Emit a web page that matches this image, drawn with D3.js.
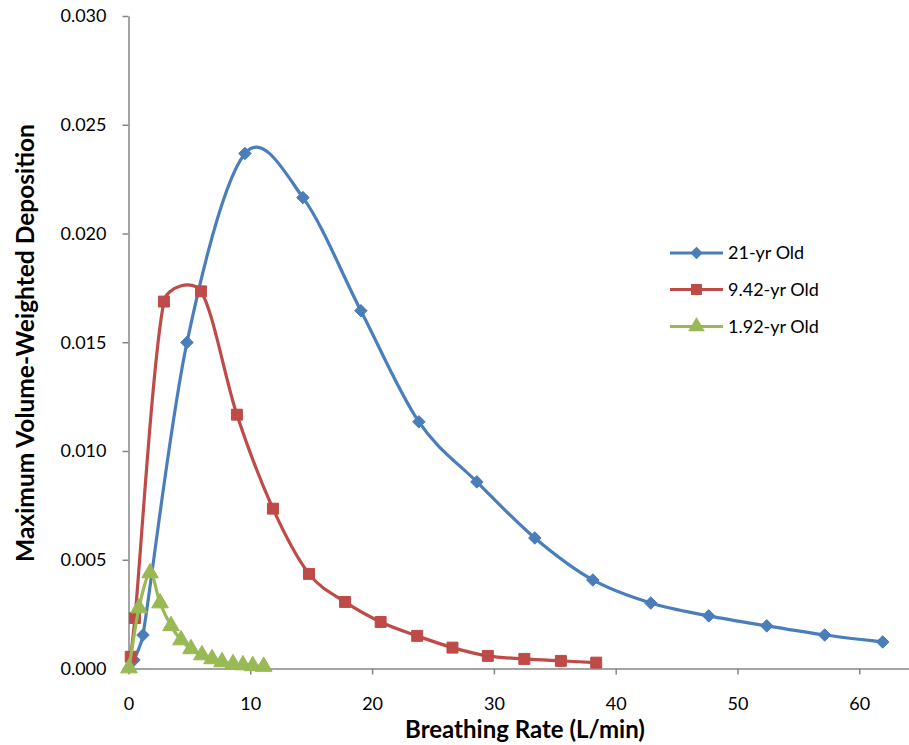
<!DOCTYPE html>
<html>
<head>
<meta charset="utf-8">
<script src="https://cdn.jsdelivr.net/npm/d3@7"></script>
<style>
  body { margin: 0; background: #fff; }
  text { font-family: Lato, "Open Sans", sans-serif; }
</style>
</head>
<body>
<div id="chart"></div>
<script>
var width = 909,
    height = 745;

// breathing rate (L/min) and deposition
var adultX = [0.45, 1.19, 4.80, 9.56, 14.32, 19.08, 23.84, 28.6, 33.36, 38.12, 42.88, 47.64, 52.4, 57.16, 61.92];
var adultY = [0.00039, 0.00154, 0.01499, 0.02368, 0.02165, 0.01645, 0.01134, 0.00858, 0.00600, 0.00407, 0.00301, 0.00242, 0.00196, 0.00154, 0.00122];

var childX = [0.18, 0.53, 2.91, 5.95, 8.9, 11.86, 14.82, 17.78, 20.7, 23.7, 26.6, 29.5, 32.5, 35.5, 38.4];
var childY = [0.00054, 0.00232, 0.01687, 0.01734, 0.01167, 0.00735, 0.00435, 0.00306, 0.00214, 0.00150, 0.00096, 0.00058, 0.00044, 0.00035, 0.00027];

var infantX = [0.04, 0.86, 1.77, 2.59, 3.49, 4.31, 5.13, 6.03, 6.86, 7.68, 8.58, 9.4, 10.2, 11.1];
var infantY = [0.00002, 0.00278, 0.00439, 0.00301, 0.00196, 0.00131, 0.00090, 0.00062, 0.00044, 0.00030, 0.00021, 0.00016, 0.00012, 0.00009];

var seriesNames = ["21-yr Old", "9.42-yr Old", "1.92-yr Old"];
var xTicks = [0, 10, 20, 30, 40, 50, 60];
var yTicks = [0, 0.005, 0.010, 0.015, 0.020, 0.025, 0.030];

var series = [
  { name: seriesNames[0], xs: adultX, ys: adultY, color: "#4a7ebb", symbol: d3.symbolDiamond2, size: 100 },
  { name: seriesNames[1], xs: childX, ys: childY, color: "#be4b48", symbol: d3.symbolSquare, size: 120 },
  { name: seriesNames[2], xs: infantX, ys: infantY, color: "#98b954", symbol: d3.symbolTriangle, size: 120 }
];

var svg = d3.select("#chart").append("svg")
    .attr("width", width)
    .attr("height", height);

var x = d3.scaleLinear().domain([0, 70]).range([128.5, 128.5 + 70 * 12.18]);
var y = d3.scaleLinear().domain([0, 0.030]).range([668.5, 16]);

var axisColor = "#868686";

// y axis
var yAxis = svg.append("g")
    .attr("transform", "translate(128.5,0)")
    .call(d3.axisLeft(y).tickValues(yTicks).tickFormat(d3.format(".3f")).tickSize(6).tickSizeOuter(0));
yAxis.select(".domain").attr("stroke", axisColor).attr("stroke-width", 1.5);
yAxis.selectAll(".tick line").attr("stroke", axisColor).attr("stroke-width", 1.5);
yAxis.selectAll(".tick text")
    .attr("x", -22)
    .style("font-size", "18px")
    .attr("fill", "#000");

// x axis
var xAxis = svg.append("g")
    .attr("transform", "translate(0,668.5)")
    .call(d3.axisBottom(x).tickValues(xTicks).tickSize(6).tickSizeOuter(0));
xAxis.select(".domain").attr("stroke", axisColor).attr("stroke-width", 1.5);
xAxis.selectAll(".tick text")
    .attr("y", 29)
    .style("font-size", "18px")
    .attr("fill", "#000");
xAxis.selectAll(".tick line").attr("stroke", axisColor).attr("stroke-width", 1.5);

// axis titles
svg.append("text")
    .attr("x", 525)
    .attr("y", 738)
    .attr("text-anchor", "middle")
    .style("font-size", "24px")
    .attr("font-weight", "bold")
    .text("Breathing Rate (L/min)");

svg.append("text")
    .attr("transform", "translate(34,343) rotate(-90)")
    .attr("text-anchor", "middle")
    .style("font-size", "24.5px")
    .attr("font-weight", "bold")
    .text("Maximum Volume-Weighted Deposition");

// Catmull-Rom style smoothing (handle = neighbour chord / 6),
// with each handle capped to a share of its own segment
function smoothPath(pts) {
  var p = pts.map(function(d) { return [x(d[0]), y(d[1])] });
  var k = 0.4;
  var path = d3.path();
  path.moveTo(p[0][0], p[0][1]);
  function handle(i, d) {
    var a = p[Math.max(i - 1, 0)], b = p[Math.min(i + 1, p.length - 1)];
    var dx = (b[0] - a[0]) / 6, dy = (b[1] - a[1]) / 6;
    var len = Math.hypot(dx, dy) || 1;
    var f = Math.min(1, k * d / len);
    return [dx * f, dy * f];
  }
  for (var i = 0; i < p.length - 1; i++) {
    var a = p[i], b = p[i + 1];
    var d = Math.hypot(b[0] - a[0], b[1] - a[1]);
    var ha = handle(i, d), hb = handle(i + 1, d);
    path.bezierCurveTo(a[0] + ha[0], a[1] + ha[1], b[0] - hb[0], b[1] - hb[1], b[0], b[1]);
  }
  return path.toString();
}

series.forEach(function(s) {
  var pts = s.xs.map(function(v, i) { return [v, s.ys[i]] });
  svg.append("path")
      .datum(pts)
      .attr("d", smoothPath)
      .attr("fill", "none")
      .attr("stroke", s.color)
      .attr("stroke-width", 3.2)
      .attr("stroke-linejoin", "round");
  svg.append("g").selectAll("path")
      .data(pts)
      .enter()
      .append("path")
      .attr("transform", function(d) { return "translate(" + x(d[0]) + "," + y(d[1]) + ")" })
      .attr("d", d3.symbol().type(s.symbol).size(s.size)())
      .attr("fill", s.color)
      .attr("stroke", s.color)
      .attr("stroke-width", 1);
});

// legend
var legend = svg.append("g").attr("transform", "translate(670,0)");
var legendY = [253, 289.5, 326.5];
series.forEach(function(s, i) {
  legend.append("line")
      .attr("x1", 0).attr("x2", 53)
      .attr("y1", legendY[i]).attr("y2", legendY[i])
      .attr("stroke", s.color)
      .attr("stroke-width", 3.2);
  legend.append("path")
      .attr("transform", "translate(26.5," + legendY[i] + ")")
      .attr("d", d3.symbol().type(s.symbol).size(s.size)())
      .attr("fill", s.color);
  legend.append("text")
      .attr("x", 58)
      .attr("y", legendY[i])
      .attr("dy", "0.35em")
      .style("font-size", "18px")
      .text(s.name);
});
</script>
</body>
</html>
